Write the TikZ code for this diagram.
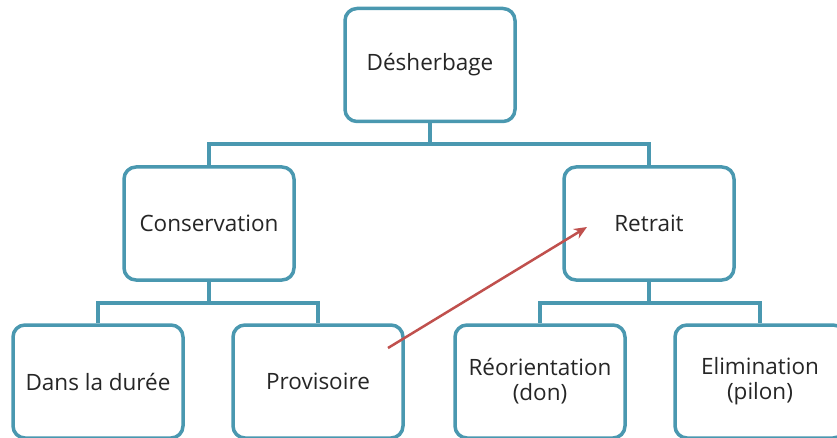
\documentclass[tikz,border=0pt]{standalone}
\usepackage{fontspec}
\setmainfont{Open Sans}
\usetikzlibrary{arrows.meta}
\usetikzlibrary{positioning}
\definecolor{boxteal}{RGB}{74,152,176}
\definecolor{arrowred}{RGB}{192,80,77}
\tikzset{
    box/.style={draw=boxteal, line width=3.5pt, rounded corners=12pt, fill=white,
        minimum width=170pt, minimum height=113pt, align=center,
        font=\fontsize{22.5}{25}\selectfont, text=black!85, inner sep=0pt},
    link/.style={draw=boxteal, line width=3.5pt},
    jump/.style={draw=arrowred, line width=2.5pt, -{Stealth[length=13pt,width=11pt]}}
}

\begin{document}
\begin{tikzpicture}[x=1pt,y=-1pt]

    \useasboundingbox (0,0) rectangle (837,438);
    \clip (0,0) rectangle (837,438);

    \node[box] (des) at (430,65) {Désherbage};
    \node[box] (cons) at (209,223.5) {Conservation};
    \node[box] (ret) at (649,223.5) {Retrait};

    \node[box] (duree) at (98,381.5) {Dans la durée};
    \node[box] (prov) at (318,381.5) {Provisoire};
    \node[box] (reor) at (540,381.5) {Réorientation\\(don)};
    \node[box] (elim) at (760,381.5) {Elimination\\(pilon)};

    % tree links
    \coordinate (j0) at (des.south |- 0,144);
    \coordinate (j1) at (cons.south |- 0,303);
    \coordinate (j2) at (ret.south |- 0,303);

    \draw[link] (des.south) -- (j0) -| (cons.north);
    \draw[link] (j0) -| (ret.north);
    \draw[link] (cons.south) -- (j1) -| (duree.north);
    \draw[link] (j1) -| (prov.north);
    \draw[link] (ret.south) -- (j2) -| (reor.north);
    \draw[link] (j2) -| (elim.north);

    \coordinate (a0) at (388,348);
    \coordinate (a1) at (587,227);
    \draw[jump] (a0) -- (a1);
\end{tikzpicture}
\end{document}
